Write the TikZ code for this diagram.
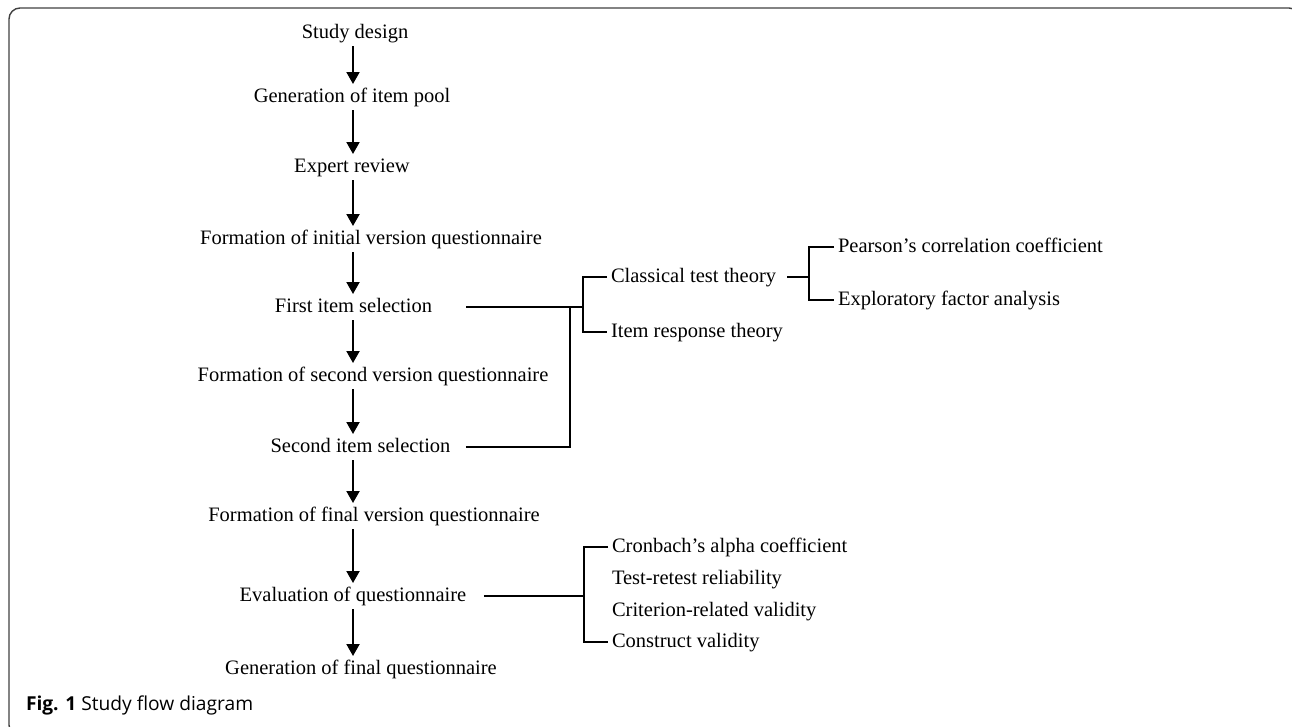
\documentclass[tikz,border=0pt]{standalone}
\usepackage{fontspec}
\setmainfont{Liberation Serif}
\newfontfamily\capfont{Open Sans}
\usetikzlibrary{arrows.meta}
\tikzset{
  lbl/.style={inner sep=3pt,text height=14pt,text depth=4pt,font=\fontsize{20.5}{24}\selectfont},
  sub/.style={lbl,anchor=west},
  flow/.style={-{Triangle[width=13pt,length=12pt]}},
}
\begin{document}
\begin{tikzpicture}[x=1pt,y=-1pt,line width=2pt]
\useasboundingbox (0,0) rectangle (1292,726);
\draw[black!75,line width=1.4pt,rounded corners=11pt] (9,8) rectangle (1300,736);

\def\steps{Study design/355/33,Generation of item pool/352/97,Expert review/352/167,
  Formation of initial version questionnaire/371/239,First item selection/353.5/307,
  Formation of second version questionnaire/373/376,Second item selection/360.5/447,
  Formation of final version questionnaire/374/516,Evaluation of questionnaire/353/596,
  Generation of final questionnaire/361/669}
\foreach \t/\x/\y [count=\i] in \steps
  \node[lbl] (s\i) at (\x,\y) {\t};
\coordinate (ax) at (353,0);
\foreach \i [evaluate=\i as \j using int(\i+1)] in {1,...,9}
  \draw[flow] (s\i.south -| ax) -- (s\j.north -| ax);

\node[sub] (ctt) at (607,277) {Classical test theory};
\node[sub] (irt) at (607,332) {Item response theory};
\node[sub] (pcc) at (834,247) {Pearson’s correlation coefficient};
\node[sub] (efa) at (834,300) {Exploratory factor analysis};
\node[sub] (cac) at (608,547) {Cronbach’s alpha coefficient};
\node[sub] (trr) at (608,579) {Test-retest reliability};
\node[sub] (crv) at (608,611) {Criterion-related validity};
\node[sub] (cv) at (608,642) {Construct validity};

\coordinate (b1) at (583,307);
\coordinate (b2) at (809,277);
\coordinate (b3) at (584,596);
\coordinate (b4) at (570,307);
\draw[shorten <=30pt] (s5.east) -- (b1);
\draw[shorten <=11.5pt] (s7.east) -| (b4);
\draw (ctt.west) -| (b1) |- (irt.west);
\draw[shorten <=7pt] (ctt.east) -- (b2);
\draw (pcc.west) -| (b2) |- (efa.west);
\draw[shorten <=13.5pt] (s9.east) -- (b3);
\draw (cac.west) -| (b3) |- (cv.west);

\node[anchor=west,inner sep=0pt,font=\capfont\fontsize{19.2}{22}\selectfont] (fig) at (25,705)
  {\textbf{Fig. 1} Study flow diagram};
\end{tikzpicture}
\end{document}
